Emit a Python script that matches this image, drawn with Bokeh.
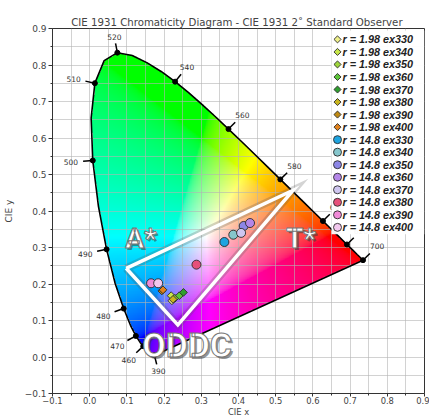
import numpy as np
from bokeh.plotting import figure
from bokeh.models import FixedTicker, CustomJSTickFormatter
from bokeh.core.properties import value
from bokeh.embed import file_html
from bokeh.resources import INLINE

# ---------------- data ----------------
# CIE 1931 2-degree spectral locus (chromaticity x, y)
locus_nm = [380, 390, 400, 410, 420, 430, 440, 450, 460, 465, 470, 475, 480, 485,
            490, 495, 500, 505, 510, 515, 520, 525, 530, 535, 540, 545, 550, 555,
            560, 565, 570, 575, 580, 585, 590, 595, 600, 605, 610, 620, 630, 640,
            650, 660, 680, 700]
locus_x = [0.1741, 0.1738, 0.1733, 0.1726, 0.1714, 0.1689, 0.1644, 0.1566, 0.1440,
           0.1355, 0.1241, 0.1096, 0.0913, 0.0687, 0.0454, 0.0235, 0.0082, 0.0039,
           0.0139, 0.0389, 0.0743, 0.1142, 0.1547, 0.1929, 0.2296, 0.2658, 0.3016,
           0.3373, 0.3731, 0.4087, 0.4441, 0.4788, 0.5125, 0.5448, 0.5752, 0.6029,
           0.6270, 0.6482, 0.6658, 0.6915, 0.7079, 0.7190, 0.7260, 0.7300, 0.7334,
           0.7347]
locus_y = [0.0050, 0.0049, 0.0048, 0.0048, 0.0051, 0.0069, 0.0109, 0.0177, 0.0297,
           0.0399, 0.0578, 0.0868, 0.1327, 0.2007, 0.2950, 0.4127, 0.5384, 0.6548,
           0.7502, 0.8120, 0.8338, 0.8262, 0.8059, 0.7816, 0.7543, 0.7243, 0.6923,
           0.6589, 0.6245, 0.5896, 0.5547, 0.5202, 0.4866, 0.4544, 0.4242, 0.3965,
           0.3725, 0.3514, 0.3340, 0.3083, 0.2920, 0.2809, 0.2740, 0.2700, 0.2666,
           0.2653]
label_nm = [390, 460, 470, 480, 490, 500, 510, 520, 540, 560, 580, 600, 620, 700]

series_labels = ["r = 1.98 ex330", "r = 1.98 ex340", "r = 1.98 ex350", "r = 1.98 ex360",
                 "r = 1.98 ex370", "r = 1.98 ex380", "r = 1.98 ex390", "r = 1.98 ex400",
                 "r = 14.8 ex330", "r = 14.8 ex340", "r = 14.8 ex350", "r = 14.8 ex360",
                 "r = 14.8 ex370", "r = 14.8 ex380", "r = 14.8 ex390", "r = 14.8 ex400"]
series_x = [0.221, 0.219, 0.229, 0.241, 0.252, 0.224, 0.194, 0.197,
            0.362, 0.386, 0.414, 0.431, 0.407, 0.287, 0.165, 0.184]
series_y = [0.154, 0.168, 0.161, 0.168, 0.177, 0.158, 0.181, 0.184,
            0.315, 0.335, 0.359, 0.367, 0.340, 0.253, 0.202, 0.202]
series_colors = ["#eef08a", "#c8e64a", "#9ed63c", "#5cc43a", "#2f9e2f", "#c8b41e", "#c08a12", "#e0821e",
                 "#1ea4e0", "#86c6cc", "#8c86e6", "#b486e8", "#cfc6f0", "#e6507a", "#f08ad8", "#f2c8ee"]
series_markers = ["diamond"] * 8 + ["circle"] * 8

triangle_x = [0.098, 0.547, 0.237]
triangle_y = [0.243, 0.457, 0.088]
region_text = ["A*", "T*", "ODDC"]
region_x = [0.138, 0.568, 0.262]
region_y = [0.326, 0.326, 0.033]

x_ticks = [-0.1, 0.0, 0.1, 0.2, 0.3, 0.4, 0.5, 0.6, 0.7, 0.8, 0.9]
y_ticks = [-0.1, 0.0, 0.1, 0.2, 0.3, 0.4, 0.5, 0.6, 0.7, 0.8, 0.9]
minor_ticks = [-0.05, 0.05, 0.15, 0.25, 0.35, 0.45, 0.55, 0.65, 0.75, 0.85]

# ---------------- figure ----------------
W, H = 429, 419
BL, BR, BT, BB = 52, 5, 28, 22
XR = (-0.1, 0.9)
YR = (-0.1, 0.9)
p = figure(width=W, height=H, x_range=XR, y_range=YR,
           output_backend="svg", toolbar_location=None,
           title="CIE 1931 Chromaticity Diagram - CIE 1931 2\u02da  Standard Observer")
p.min_border_left = BL
p.min_border_right = BR
p.min_border_top = BT
p.min_border_bottom = BB
p.title.align = "center"
p.title.text_font = "DejaVu Sans"
p.title.text_font_size = "10.2px"
p.title.text_font_style = "normal"
p.title.text_color = "#444444"
p.title.standoff = 1
p.outline_line_color = "#333333"
p.background_fill_color = "white"

fmt = CustomJSTickFormatter(code="return tick.toFixed(1).replace('-', '\\u2212');")
for ax, ticks in ((p.xaxis, x_ticks), (p.yaxis, y_ticks)):
    ax.ticker = FixedTicker(ticks=ticks, minor_ticks=minor_ticks)
    ax.formatter = fmt
    ax.axis_label_text_font = "DejaVu Sans"
    ax.axis_label_text_font_size = "9px"
    ax.axis_label_text_font_style = "normal"
    ax.axis_label_text_color = "#444444"
    ax.major_label_text_font = "DejaVu Sans"
    ax.major_label_text_font_size = "9px"
    ax.major_label_text_color = "#444444"
    ax.major_label_standoff = 2
    ax.axis_line_color = "#333333"
    ax.major_tick_line_color = "#333333"
    ax.minor_tick_line_color = "#333333"
    ax.major_tick_out = 4
    ax.major_tick_in = 0
    ax.minor_tick_out = 2
    ax.minor_tick_in = 0
p.yaxis.axis_label = "CIE y"
p.yaxis.axis_label_standoff = 8
p.xaxis.axis_label = "CIE x"
p.xaxis.axis_label_standoff = 0
p.xaxis.axis_label_text_font_size = "8.4px"
p.xaxis.major_label_standoff = 0
p.xaxis.major_label_text_font_size = "8.4px"
p.xaxis.major_tick_out = 3

for g in (p.xgrid, p.ygrid):
    g.grid_line_color = "#b4b4b4"
    g.grid_line_alpha = 0.6
    g.minor_grid_line_color = "#b4b4b4"
    g.minor_grid_line_alpha = 0.6
    g.level = "underlay"

# ---------------- chromaticity fill ----------------
nxp, nyp = 420, 440
x0, x1, y0, y1 = 0.0, 0.75, 0.0, 0.85
gx = np.linspace(x0, x1, nxp)
gy = np.linspace(y0, y1, nyp)
X, Y = np.meshgrid(gx, gy)
Ys = np.maximum(Y, 1e-4)
XYZ = np.stack([X / Ys, np.ones_like(X), (1 - X - Y) / Ys], axis=-1)
M = np.array([[3.2406, -1.5372, -0.4986],
              [-0.9689, 1.8758, 0.0415],
              [0.0557, -0.2040, 1.0570]])
RGB = XYZ @ M.T
enc = np.where(RGB <= 0.0031308, RGB * 12.92,
               1.055 * np.abs(RGB) ** (1 / 2.4) - 0.055)
mx = np.max(enc, axis=-1, keepdims=True)
enc = np.clip(enc / np.where(mx > 0, mx, 1), 0, 1)

px = np.array(locus_x)
py = np.array(locus_y)
inside = np.zeros(X.shape, dtype=bool)
n = len(px)
j = n - 1
for i in range(n):
    xi, yi, xj, yj = px[i], py[i], px[j], py[j]
    dy = (yj - yi) if yj != yi else 1e-12
    cond = ((yi > Y) != (yj > Y)) & (X < (xj - xi) * (Y - yi) / dy + xi)
    inside ^= cond
    j = i

img = np.zeros((nyp, nxp), dtype=np.uint32)
view = img.view(dtype=np.uint8).reshape((nyp, nxp, 4))
view[..., 0] = (enc[..., 0] * 255).astype(np.uint8)
view[..., 1] = (enc[..., 1] * 255).astype(np.uint8)
view[..., 2] = (enc[..., 2] * 255).astype(np.uint8)
view[..., 3] = np.where(inside, 255, 0).astype(np.uint8)
p.image_rgba(image=[img], x=x0, y=y0, dw=x1 - x0, dh=y1 - y0, level="image")

# ---------------- spectral locus ----------------
p.line(locus_x + [locus_x[0]], locus_y + [locus_y[0]], line_color="black", line_width=1.6)

dot_x, dot_y, end_x, end_y, lab_x, lab_y, lab_t = [], [], [], [], [], [], []
for nm in label_nm:
    i = locus_nm.index(nm)
    a = max(i - 1, 0)
    b = min(i + 1, n - 1)
    dx = px[b] - px[a]
    dyv = py[b] - py[a]
    nx_, ny_ = -dyv, dx
    ln = np.hypot(nx_, ny_)
    nx_, ny_ = nx_ / ln, ny_ / ln
    dot_x.append(px[i]); dot_y.append(py[i])
    end_x.append(px[i] + nx_ * 0.026); end_y.append(py[i] + ny_ * 0.026)
    d = 0.040 + 0.019 * abs(nx_)
    lab_x.append(px[i] + nx_ * d); lab_y.append(py[i] + ny_ * d)
    lab_t.append(str(nm))

p.segment(dot_x, dot_y, end_x, end_y, line_color="black", line_width=1.5)
p.scatter(dot_x, dot_y, size=5, color="black")
p.text(lab_x, lab_y, text=lab_t, text_font=value("DejaVu Sans"), text_font_size="7.5px",
       text_color="#333333", text_align="center", text_baseline="middle")

# ---------------- triangle overlay ----------------
tx = triangle_x + [triangle_x[0]]
ty = triangle_y + [triangle_y[0]]
p.line(tx, ty, line_color="#555555", line_width=8, line_alpha=0.25, line_join="miter")
p.line(tx, ty, line_color="white", line_width=3.5, line_join="miter")

# ---------------- data points ----------------
def draw_marker(xs, ys, c, m, big):
    if m == "circle":
        return p.scatter(xs, ys, marker="circle", size=9 if big else 8,
                         fill_color=c, line_color="#2a2a2a", line_width=0.9)
    return p.scatter(xs, ys, marker="square", size=5.5 if big else 5, angle=np.pi / 4,
                     fill_color=c, line_color="#2a2a2a", line_width=0.9)

for sx, sy, c, m in zip(series_x, series_y, series_colors, series_markers):
    draw_marker([sx], [sy], c, m, True)

# ---------------- region labels ----------------
sizes = ["28px", "28px", "34px"]
for t, rx, ry, fs in zip(region_text, region_x, region_y, sizes):
    p.text([rx], [ry], text=[t], text_font=value("Roboto"), text_font_size=fs,
           text_font_style="bold", text_color="#3a3a3a", text_alpha=0.55,
           text_align="center", text_baseline="middle", x_offset=2, y_offset=2)
    p.text([rx], [ry], text=[t], text_font=value("Roboto"), text_font_size=fs,
           text_font_style="bold", text_color="white", text_outline_color="#777777",
           text_align="center", text_baseline="middle")

# ---------------- legend (drawn in the frame, top right) ----------------
# pixel -> data helpers, used only to place the legend box and rows
FW, FH = W - BL - BR, 369.0
def px2x(v):
    return XR[0] + (v - BL) / FW * (XR[1] - XR[0])
def py2y(v):
    return YR[1] - (v - BT) / FH * (YR[1] - YR[0])

row0, row_step = 39.0, 12.67
nrow = len(series_labels)
p.quad(left=[px2x(331)], right=[px2x(W - BR)], top=[py2y(BT + 2)],
       bottom=[py2y(row0 + row_step * (nrow - 1) + 7)],
       fill_color="white", fill_alpha=0.95, line_alpha=0)
leg_y = [py2y(row0 + row_step * k) for k in range(nrow)]
for k, (c, m) in enumerate(zip(series_colors, series_markers)):
    draw_marker([px2x(337)], [leg_y[k]], c, m, False)
p.text([px2x(342)] * nrow, leg_y, text=series_labels, text_font=value("Liberation Sans"),
       text_font_size="10.8px", text_font_style="bold italic", text_color="#222222",
       text_align="left", text_baseline="middle")

open("out.html", "w", encoding="utf-8").write(file_html(p, INLINE))
